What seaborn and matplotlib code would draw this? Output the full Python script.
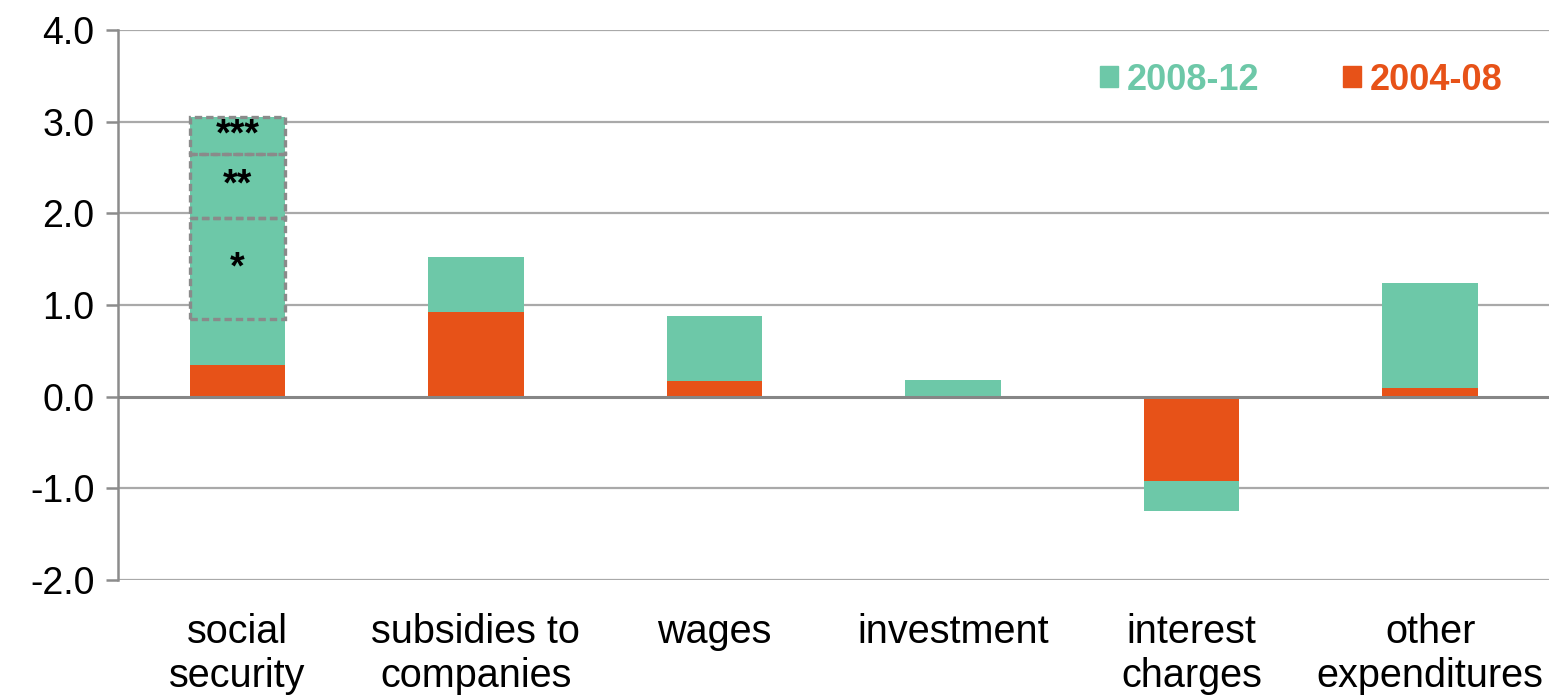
import numpy as np
import pandas as pd
import matplotlib
matplotlib.use("Agg")
import matplotlib.pyplot as plt
from matplotlib.patches import Rectangle, Patch
import seaborn as sns

categories = ["social\nsecurity", "subsidies to\ncompanies", "wages", "investment",
              "interest\ncharges", "other\nexpenditures"]
period_2004_08 = [0.35, 0.92, 0.17, -0.03, -0.92, 0.10]
period_2008_12 = [2.70, 0.60, 0.71, 0.18, -0.33, 1.14]
y_ticks = [-2.0, -1.0, 0.0, 1.0, 2.0, 3.0, 4.0]
box_bounds = [0.85, 1.95, 2.65, 3.05]
box_labels = ["*", "**", "***"]

green = "#6DC8A8"
orange = "#E75218"

sns.set_theme(style="white")
plt.rcParams["font.family"] = ["Liberation Sans", "DejaVu Sans"]

o = np.array(period_2004_08)
g = np.array(period_2008_12)
g_bottom = np.where(np.sign(o) == np.sign(g), o, 0.0)

df = pd.DataFrame({"category": categories, "p0408": o, "p0812": g})

fig = plt.figure(figsize=(15.51, 6.96), dpi=100)
ax = fig.add_axes([118 / 1551, 1 - 580 / 696, 1 - 118 / 1551 - 0.001, 550 / 696])

sns.barplot(data=df, x="category", y="p0408", color=orange, width=0.4,
            saturation=1, ax=ax, linewidth=0, zorder=3)
sns.barplot(data=df, x="category", y="p0812", color=green, width=0.4,
            saturation=1, ax=ax, linewidth=0, bottom=g_bottom, zorder=3)

ax.set_ylim(-2, 4)
ax.set_xlim(-0.5, 5.5)
ax.set_yticks(y_ticks)
ax.set_yticklabels([f"{v:.1f}" for v in y_ticks])
ax.set_xlabel("")
ax.set_ylabel("")

for v in y_ticks:
    if v == 0:
        continue
    ax.axhline(v, color="#A9A9A9", lw=1.6, zorder=1)
ax.axhline(0, color="#868686", lw=2.2, zorder=4)

for s in ["top", "right", "bottom"]:
    ax.spines[s].set_visible(False)
ax.spines["left"].set_color("#8C8C8C")
ax.spines["left"].set_linewidth(1.8)
ax.tick_params(axis="y", left=True, length=9, width=1.8, color="#8C8C8C",
               labelsize=27, pad=8, labelcolor="black")
ax.tick_params(axis="x", bottom=False, labelsize=28.5, pad=18, labelcolor="black")
for lbl in ax.get_xticklabels():
    lbl.set_linespacing(1.2)

# dashed boxes over the social security bar
bar0 = ax.patches[0]
x0 = bar0.get_x()
w0 = bar0.get_width()
for i, lab in enumerate(box_labels):
    lo, hi = box_bounds[i], box_bounds[i + 1]
    ax.add_patch(Rectangle((x0, lo), w0, hi - lo, fill=False, ec="#8A8A8A",
                           lw=2.4, ls=(0, (2.2, 1.2)), zorder=5))
    ax.text(x0 + w0 / 2, (lo + hi) / 2, lab, ha="center", va="center",
            fontsize=27, fontweight="bold", color="black", zorder=6)

handles = [Patch(color=green, label="2008-12"), Patch(color=orange, label="2004-08")]
leg = ax.legend(handles=handles, loc="upper right", bbox_to_anchor=(0.99, 1.0),
                ncol=2, frameon=False, handlelength=0.5, handleheight=0.5,
                handletextpad=0.25, columnspacing=2.3,
                prop={"size": 26, "weight": "bold"})
for t, c in zip(leg.get_texts(), [green, orange]):
    t.set_color(c)

fig.savefig("out.png", dpi=100)
